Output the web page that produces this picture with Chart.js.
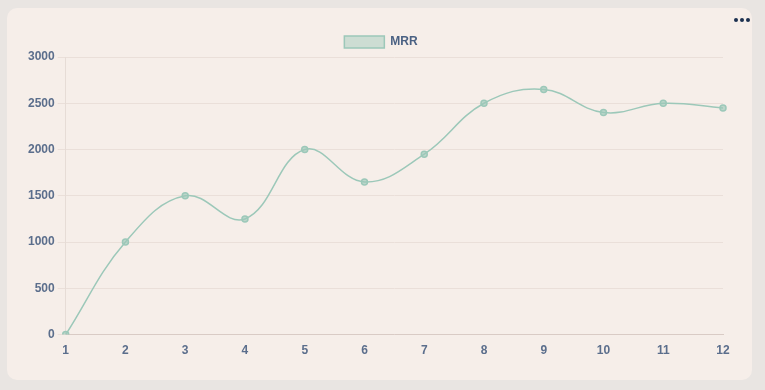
<!DOCTYPE html>
<html><head><meta charset="utf-8">
<script src="https://cdn.jsdelivr.net/npm/chart.js@4"></script>
<style>
html,body{margin:0;padding:0;background:#e9e5e2;width:765px;height:390px;overflow:hidden;font-family:"Liberation Sans",Arial,sans-serif}
#card{position:absolute;left:7px;top:8px;width:745px;height:372px;border-radius:10px;background:#f6eee9}
#wrap{position:absolute;left:0;top:0;width:745px;height:372px}
.dot{position:absolute;top:10px;width:4px;height:4px;border-radius:2px;background:#1c3050}
</style></head>
<body>
<div id="card"><div id="wrap"><canvas id="c"></canvas></div>
<div class="dot" style="left:727px"></div><div class="dot" style="left:733px"></div><div class="dot" style="left:739px"></div></div>
<script>
const categories = ["1","2","3","4","5","6","7","8","9","10","11","12"];
const mrrValues = [0,1000,1500,1250,2000,1650,1950,2500,2650,2400,2500,2450];
const seriesLabel = "MRR";
const fontFam = '"Liberation Sans", Arial, sans-serif';

const shiftLegend = {
  id: 'shiftLegend',
  afterLayout(chart) {
    if (chart.legend) {
      chart.legend.left += 7; chart.legend.right += 7;
      chart.legend.top += 1; chart.legend.bottom += 1;
    }
  }
};

new Chart(document.getElementById('c'), {
  type: 'line',
  plugins: [shiftLegend],
  data: {
    labels: categories,
    datasets: [{
      label: seriesLabel,
      data: mrrValues,
      borderColor: '#9cc8b9',
      backgroundColor: 'rgba(156,200,185,0.45)',
      pointBackgroundColor: 'rgba(156,200,185,0.65)',
      pointBorderColor: '#9cc8b9',
      borderWidth: 1.5,
      pointRadius: 3,
      tension: 0.4,
      fill: false
    }]
  },
  options: {
    responsive: true,
    maintainAspectRatio: false,
    animation: false,
    layout: { padding: { top: 20, right: 29, bottom: 21, left: 18 } },
    plugins: {
      legend: {
        labels: { color: '#4a6183', padding: 7, font: { size: 12, weight: 'bold', family: fontFam }, boxWidth: 40, boxHeight: 12 }
      },
      tooltip: { enabled: false }
    },
    scales: {
      x: {
        grid: { display: false },
        border: { color: '#d9cbc5' },
        ticks: { padding: 1, color: '#5b6e8c', font: { size: 12, weight: 'bold', family: fontFam } }
      },
      y: {
        min: 0, max: 3000,
        ticks: { stepSize: 500, color: '#5b6e8c', font: { size: 12, weight: 'bold', family: fontFam },
          callback: v => String(v) },
        grid: { color: '#eadfd9' },
        border: { color: '#e6dcd6' }
      }
    }
  }
});
</script>
</body></html>
